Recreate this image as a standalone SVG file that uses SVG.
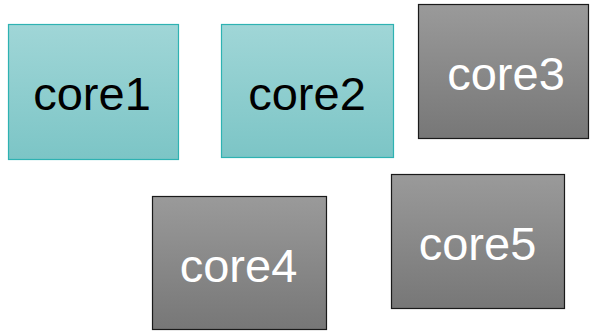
<svg xmlns="http://www.w3.org/2000/svg" width="590" height="331" viewBox="0 0 590 331">
  <defs>
    <linearGradient id="tealFill" x1="0" y1="0" x2="0" y2="1">
      <stop offset="0" stop-color="#a0d6d7"/>
      <stop offset="1" stop-color="#7cc5c6"/>
    </linearGradient>
    <linearGradient id="grayFill" x1="0" y1="0" x2="0" y2="1">
      <stop offset="0" stop-color="#9a9a9a"/>
      <stop offset="1" stop-color="#777777"/>
    </linearGradient>
  </defs>
  <style>
    .teal { fill: url(#tealFill); stroke: #2eb2b2; stroke-width: 1.2; }
    .gray { fill: url(#grayFill); stroke: #1a1a1a; stroke-width: 1.2; }
    .label { font-family: "Liberation Sans", Arial, sans-serif; font-size: 47px; text-anchor: middle; }
    .dark { fill: #000000; }
    .light { fill: #ffffff; }
  </style>
  <rect width="590" height="331" fill="#ffffff"/>
  <g id="connectors"></g>
  <g id="core1">
    <rect class="teal" x="8.5" y="24.5" width="170" height="135"/>
    <text class="label dark" x="92" y="110">core1</text>
  </g>
  <g id="core2">
    <rect class="teal" x="221.5" y="24.5" width="172" height="133"/>
    <text class="label dark" x="307" y="110">core2</text>
  </g>
  <g id="core3">
    <rect class="gray" x="418.5" y="4.5" width="170" height="134"/>
    <text class="label light" x="506" y="90">core3</text>
  </g>
  <g id="core4">
    <rect class="gray" x="152.5" y="196.5" width="174" height="133"/>
    <text class="label light" x="238.5" y="282">core4</text>
  </g>
  <g id="core5">
    <rect class="gray" x="391.5" y="174.5" width="173" height="134"/>
    <text class="label light" x="477.5" y="260">core5</text>
  </g>
</svg>
